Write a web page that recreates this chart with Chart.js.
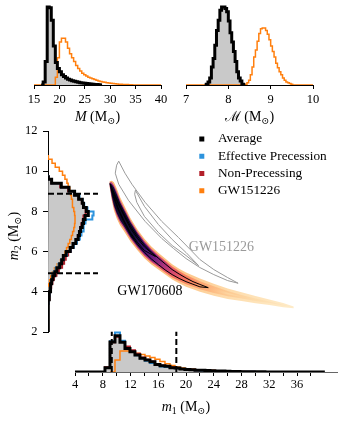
<!DOCTYPE html>
<html><head><meta charset="utf-8">
<script src="https://cdn.jsdelivr.net/npm/chart.js@4.4.1/dist/chart.umd.min.js"></script>
<style>
html,body{margin:0;padding:0;background:#fff;}
#wrap{position:relative;width:338px;height:428px;overflow:hidden;background:#fff;}
#wrap canvas{position:absolute;left:0;top:0;width:338px;height:428px;}
</style></head><body>
<div id="wrap">
<canvas id="cTotal" width="338" height="428"></canvas>
<canvas id="cChirp" width="338" height="428"></canvas>
<canvas id="cM2" width="338" height="428"></canvas>
<canvas id="cMain" width="338" height="428"></canvas>
</div>
<script>
// ================= DATA =================
const seriesNames = ['Average', 'Effective Precession', 'Non-Precessing', 'GW151226'];

// Total mass M histograms (top-left), bin width 0.4
const totalBinWidth = 0.4;
const totalAvgStart = 16.4;
const totalAverage = [0, 4, 30, 100, 99, 83, 50, 29, 21, 17, 13, 11, 9, 7.5, 6.5, 5.5, 4.8, 4.2, 3.6, 3, 2.5, 2.1, 1.8, 1.5, 1.2, 1, 0.8, 0.6, 0.4, 0];
const totalGWStart = 19.2;
const totalGW151226 = [10, 35, 55, 60, 60, 55, 47, 40, 35, 30, 25, 21, 18, 15, 13, 11.5, 10, 9, 8, 7, 6, 5.2, 4.5, 4, 3.5, 3, 2.6, 2.2, 1.9, 1.6, 1.3, 1.1, 0.9, 0.7, 0.6, 0.5, 0.4, 0.3];
const totalTicks = [15, 40, 5];

// Chirp mass histograms (top-right), bin width 0.04
const chirpBinWidth = 0.04;
const chirpAvgStart = 7.44;
const chirpAverage = [0, 1, 4, 9, 23, 34, 51, 70, 83, 96, 100, 100, 98, 94, 82, 67, 55, 43, 30, 17, 9, 5, 1, 0];
const chirpGWStart = 8.36;
const chirpGW151226 = [0, 1, 3, 6, 13, 23, 36, 45, 56, 66, 72, 73, 73, 70, 65, 58, 50, 43, 36, 28, 22, 17, 13, 9, 6, 4, 3, 2, 1, 0];
const chirpTicks = [7, 10, 1];

// m1 histograms (bottom), bin width 0.72
const m1BinWidth = 0.72;
const m1Start = 8.32;
const m1Average = [12, 83, 100, 82, 65, 56, 47, 38, 33, 28, 21, 17, 16, 12, 11, 8, 7, 6, 5, 4.5, 4, 3.5, 3, 2.5, 2, 1.6, 1.3, 1, 0.8, 0.6, 0.5, 0.4, 0.3];
const m1EffPrec = [11, 85, 109, 86, 66, 55, 46, 37, 31, 25, 19, 15, 14, 11, 10, 8, 6.5, 5.5, 4.5, 4, 3.5, 3, 2.5, 2, 1.6, 1.3, 1, 0.8, 0.6, 0.5];
const m1NonPrec = [13, 82, 97, 84, 70, 60, 50, 40, 34, 29, 22, 18, 16, 13, 11, 8.5, 7, 6, 5, 4.5, 4, 3.5, 3, 2.5, 2, 1.6, 1.3, 1, 0.8, 0.6];
const m1GWStart = 9.04;
const m1GW151226 = [0, 33, 58, 58, 55, 52, 48, 44, 40, 35, 29, 23, 18, 14, 11, 9, 7.5, 6.5, 5.5, 4.5, 4, 3.5, 3, 2.5, 2, 1.6, 1.3, 1, 0.8, 0.6, 0.5, 0.4];
const m1Interval = [9.3, 18.6];
const m1Ticks = [4, 40, 2];

// m2 histograms (left), bin width 0.2
const m2BinWidth = 0.2;
const m2AvgStart = 3.2;
const m2Average = [0.5, 1.5, 2.5, 3.5, 5, 7, 9, 12, 17, 22, 29, 34, 38, 45, 55, 62, 69, 75, 78, 81, 85, 88, 92, 100, 95, 88, 85, 76, 66, 52, 33, 9, 2];
const m2PrecStart = 3.4;
const m2EffPrec = [1, 2, 3, 4, 6, 8, 11, 14, 19, 26, 33, 39, 47, 56, 64, 72, 79, 83, 87, 89, 93, 110, 113, 98, 90, 86, 78, 66, 52, 32, 9, 2];
const m2NonPrec = [1, 2.5, 4, 6, 8, 11, 15, 21, 27, 35, 40, 44, 50, 57, 63, 70, 74, 77, 80, 83, 86, 88, 94, 93, 88, 84, 76, 65, 50, 30, 8, 2];
const m2GWStart = 4.0;
const m2GW151226 = [1, 2, 4, 7, 11, 16, 23, 31, 37, 42, 46, 50, 54, 58, 61, 64, 66, 67, 67, 66, 64, 62, 60, 58, 56, 54, 50, 47, 42, 36, 28, 18, 10, 2];
const m2Interval = [4.92, 8.88];
const m2Ticks = [2, 12, 2];

// GW170608 posterior band in (m1, m2): sample m1 values and m2 bounds
const bandM1 =         [9.0, 9.3, 9.6, 10, 10.5, 11, 12, 13, 14, 15, 16, 17, 18, 19, 20, 22, 24, 26, 28, 30, 32, 34, 35.5];
const bandCenter =     [9.35, 9.05, 8.75, 8.4, 8.0, 7.7, 7.08, 6.58, 6.15, 5.8, 5.52, 5.25, 4.98, 4.78, 4.6, 4.32, 4.1, 3.9, 3.75, 3.6, 3.47, 3.33, 3.22];
const bandOuterUpper = [9.5, 9.52, 9.45, 9.15, 8.7, 8.35, 7.66, 7.1, 6.63, 6.25, 5.94, 5.65, 5.36, 5.14, 4.95, 4.65, 4.4, 4.16, 3.97, 3.78, 3.61, 3.43, 3.26];
const bandOuterLower = [9.2, 8.55, 8.05, 7.65, 7.3, 7.05, 6.5, 6.06, 5.67, 5.35, 5.1, 4.85, 4.6, 4.42, 4.25, 3.99, 3.8, 3.64, 3.53, 3.42, 3.33, 3.23, 3.18];
const bandMidUpper =   [9.45, 9.45, 9.3, 9.0, 8.55, 8.2, 7.53, 6.98, 6.52, 6.14, 5.83, 5.54, 5.25, 5.03, 4.83, 4.52, 4.27, 4.03, 3.84, 3.66, 3.51, 3.35, 3.22];
const bandMidLower =   [9.25, 8.65, 8.2, 7.8, 7.45, 7.2, 6.63, 6.18, 5.78, 5.46, 5.21, 4.96, 4.71, 4.53, 4.37, 4.12, 3.93, 3.77, 3.66, 3.54, 3.43, 3.31, 3.22];
const bandCoreUpper =  [9.4, 9.35, 9.2, 8.88, 8.44, 8.1, 7.44, 6.9, 6.44, 6.06, 5.75, 5.46, 5.16, 4.94, 4.74, 4.43, 4.18, 3.94, 3.75, 3.6, 3.47, 3.33, 3.22];
const bandCoreLower =  [9.3, 8.75, 8.3, 7.92, 7.56, 7.3, 6.72, 6.26, 5.86, 5.54, 5.29, 5.04, 4.8, 4.62, 4.46, 4.21, 4.02, 3.86, 3.75, 3.6, 3.47, 3.33, 3.22];

// GW170608 credible contours (m1, m2)
const gw170608OuterM1 = [9.05, 9.6, 10.2, 11, 12, 13, 14, 15, 16, 17, 18, 19, 20, 21, 22, 23.2, 22, 21, 20, 19, 18, 17, 16, 15, 14, 13, 12, 11, 10.2, 9.5, 9.05];
const gw170608OuterM2 = [9.38, 8.95, 8.45, 7.9, 7.25, 6.75, 6.32, 5.97, 5.67, 5.38, 5.1, 4.88, 4.68, 4.5, 4.36, 4.2, 4.24, 4.37, 4.5, 4.66, 4.85, 5.08, 5.35, 5.63, 5.96, 6.36, 6.85, 7.5, 8.1, 8.75, 9.38];
const gw170608InnerM1 = [9.3, 10.2, 11, 12, 13, 14, 15.6, 14, 13, 12, 11, 10.2, 9.5, 9.3];
const gw170608InnerM2 = [9.1, 8.38, 7.82, 7.15, 6.65, 6.23, 5.75, 6.05, 6.45, 6.93, 7.58, 8.18, 8.85, 9.1];

// GW151226 credible contours (m1, m2)
const gw151226OuterM1 = [10.3, 11.2, 12.2, 14.1, 16.5, 18.9, 20.6, 22.0, 24.0, 26.0, 27.5, 26.0, 24.0, 22.0, 20.0, 18.2, 16.5, 14.1, 11.7, 10.3, 9.8, 10.0, 10.3];
const gw151226OuterM2 = [10.5, 9.9, 9.35, 8.45, 7.5, 6.7, 6.1, 5.6, 5.1, 4.7, 4.42, 4.55, 4.85, 5.2, 5.65, 6.15, 6.65, 7.5, 8.55, 9.35, 9.9, 10.3, 10.5];
const gw151226InnerM1 = [12.7, 14, 16, 18, 20, 21.8, 20, 18, 16, 14, 12.9, 12.6, 12.7];
const gw151226InnerM2 = [9.05, 8.25, 7.35, 6.6, 5.95, 5.3, 5.8, 6.3, 6.95, 7.75, 8.45, 8.85, 9.05];

const eventLabels = ['GW151226', 'GW170608'];
const eventLabelM1 = [25.1, 14.8];
const eventLabelM2 = [6.22, 4.0];

// ================= STYLE =================
const BLACK = '#000000', BLUE = '#2c93dd', RED = '#b3202a', ORANGE = '#ff7f0e', GRAY = '#c9c9c9';
const seriesColors = [BLACK, BLUE, RED, ORANGE];
const SERIF = '"Liberation Serif", "DejaVu Serif", serif';
const coreStops = [[9.0, '#1c0c45'], [10, '#0d0829'], [12.5, '#140b38'], [14, '#3c0f70'], [15.5, '#731f81'], [17, '#b5367a'], [18.5, '#e1506a'], [20, '#f6745c'], [22, '#fb9d6c'], [24, '#fdbd85'], [26, '#fdd5a0'], [35.5, '#fee6bd']];
const midStops = [[9.0, '#b93c7c'], [12, '#b2357d'], [14, '#cc4173'], [16, '#e45366'], [18, '#f36a5e'], [20, '#fa8a63'], [22, '#fca872'], [25, '#fdc58c'], [30, '#fddcab'], [35.5, '#fee8c4']];
const haloStops = [[9.0, '#fbb26f'], [14, '#fcb877'], [20, '#fdc88d'], [26, '#fedcac'], [35.5, '#feecc9']];

// ================= HELPERS =================
function hStep(start, width, counts, lo, hi) {
  const pts = [];
  if (lo !== undefined) pts.push({x: lo, y: 0});
  pts.push({x: start, y: 0});
  counts.forEach((c, i) => { pts.push({x: start + i * width, y: c}); pts.push({x: start + (i + 1) * width, y: c}); });
  pts.push({x: start + counts.length * width, y: 0});
  if (hi !== undefined) pts.push({x: hi, y: 0});
  return pts;
}
function vStep(start, width, counts, lo, hi) {
  return hStep(start, width, counts, lo, hi).map(p => ({x: p.y, y: p.x}));
}
function zip(xs, ys) { return xs.map((x, i) => ({x, y: ys[i]})); }
function polygon(xs, upper, lower) {
  const pts = zip(xs, upper);
  for (let i = xs.length - 1; i >= 0; i--) pts.push({x: xs[i], y: lower[i]});
  pts.push({x: xs[0], y: upper[0]});
  return pts;
}
function centerAt(m1) {
  for (let i = 0; i < bandM1.length - 1; i++) {
    if (m1 <= bandM1[i + 1]) {
      const t = (m1 - bandM1[i]) / (bandM1[i + 1] - bandM1[i]);
      return bandCenter[i] + t * (bandCenter[i + 1] - bandCenter[i]);
    }
  }
  return bandCenter[bandCenter.length - 1];
}
function bandGradient(chart, stops) {
  const {ctx, scales} = chart;
  const x = scales.x, y = scales.y;
  if (!chart.chartArea || !x || !y) return 'rgba(0,0,0,0)';
  const n = bandM1.length - 1;
  const p0 = {x: x.getPixelForValue(bandM1[0]), y: y.getPixelForValue(bandCenter[0])};
  const p1 = {x: x.getPixelForValue(bandM1[n]), y: y.getPixelForValue(bandCenter[n])};
  const dx = p1.x - p0.x, dy = p1.y - p0.y, L2 = dx * dx + dy * dy;
  const g = ctx.createLinearGradient(p0.x, p0.y, p1.x, p1.y);
  stops.forEach(([m1, col]) => {
    const px = x.getPixelForValue(m1), py = y.getPixelForValue(centerAt(m1));
    const t = Math.min(1, Math.max(0, ((px - p0.x) * dx + (py - p0.y) * dy) / L2));
    g.addColorStop(t, col);
  });
  return g;
}
function drawRich(ctx, segs, cx, cy, rot, size) {
  ctx.save();
  ctx.translate(cx, cy);
  if (rot) ctx.rotate(rot);
  let total = 0;
  const parts = segs.map(s => {
    const fs = s.sub ? size * 0.7 : size;
    const font = (s.italic ? 'italic ' : '') + fs + 'px ' + SERIF;
    ctx.font = font;
    const w = ctx.measureText(s.t).width;
    total += w;
    return {font, w, t: s.t, dy: s.sub ? size * 0.22 : 0};
  });
  let x = -total / 2;
  ctx.textBaseline = 'alphabetic';
  ctx.textAlign = 'left';
  ctx.fillStyle = '#000';
  parts.forEach(p => { ctx.font = p.font; ctx.fillText(p.t, x, size * 0.33 + p.dy); x += p.w; });
  ctx.restore();
}
const richTitlePlugin = {
  id: 'richTitles',
  afterDraw(chart, args, opts) {
    (opts.items || []).forEach(it => drawRich(chart.ctx, it.segs, it.x, it.y, it.rot || 0, it.size || 14));
  }
};
const keyPlugin = {
  id: 'seriesKey',
  afterDraw(chart, args, opts) {
    const ctx = chart.ctx;
    ctx.save();
    ctx.font = '13.3px ' + SERIF;
    ctx.textBaseline = 'middle';
    ctx.textAlign = 'left';
    seriesNames.forEach((name, i) => {
      const y = opts.top + i * opts.step;
      ctx.fillStyle = seriesColors[i];
      ctx.fillRect(opts.left, y - 2.5, 5, 5);
      ctx.fillStyle = '#000';
      ctx.fillText(name, opts.textLeft, y);
    });
    ctx.restore();
  }
};
const eventLabelPlugin = {
  id: 'eventLabels',
  afterDatasetsDraw(chart, args, opts) {
    const ctx = chart.ctx, x = chart.scales.x, y = chart.scales.y;
    ctx.save();
    ctx.font = '14px ' + SERIF;
    ctx.textAlign = 'center';
    ctx.textBaseline = 'middle';
    eventLabels.forEach((t, i) => {
      ctx.fillStyle = opts.colors[i];
      ctx.fillText(t, x.getPixelForValue(eventLabelM1[i]), y.getPixelForValue(eventLabelM2[i]));
    });
    ctx.restore();
  }
};

Chart.defaults.font.family = SERIF;
Chart.defaults.font.size = 12.5;
Chart.defaults.color = '#000';
Chart.defaults.animation = false;
Chart.defaults.events = [];
Chart.defaults.plugins.legend.display = false;
Chart.defaults.plugins.tooltip.enabled = false;
Chart.defaults.elements.point.radius = 0;
Chart.defaults.elements.line.tension = 0;
Chart.defaults.elements.line.borderJoinStyle = 'miter';
Chart.defaults.elements.line.borderCapStyle = 'butt';

const base = {responsive: false, maintainAspectRatio: false, devicePixelRatio: 1};
const clear = 'rgba(0,0,0,0)';

function topAxis(t) {
  return {type: 'linear', min: t[0], max: t[1], position: 'bottom',
    afterFit: s => { s.height = 30; },
    ticks: {stepSize: t[2], padding: 3, autoSkip: false, maxRotation: 0},
    grid: {drawOnChartArea: false, tickLength: 4, tickColor: '#000', color: '#000'},
    border: {display: true, color: '#000', width: 1}};
}
function topChart(id, avgStart, avg, gwStart, gw, w, t, padL, padR, title) {
  return new Chart(document.getElementById(id), {
    type: 'line',
    data: {datasets: [
      {label: 'Average (fill)', data: hStep(avgStart, w, avg), fill: 'shape', backgroundColor: GRAY, borderColor: clear, borderWidth: 0, order: 3},
      {label: 'GW151226', data: hStep(gwStart, w, gw, t[0], t[1]), borderColor: ORANGE, borderWidth: 1.5, fill: false, order: 2},
      {label: 'Average', data: hStep(avgStart, w, avg), borderColor: BLACK, borderWidth: 3, fill: false, order: 1}
    ]},
    options: Object.assign({}, base, {
      layout: {padding: {left: padL, right: padR, top: 0, bottom: 313}},
      scales: {x: topAxis(t), y: {type: 'linear', display: false, min: 0, max: 109}},
      plugins: {richTitles: {items: [title]}}
    }),
    plugins: [richTitlePlugin]
  });
}

topChart('cTotal', totalAvgStart, totalAverage, totalGWStart, totalGW151226, totalBinWidth, totalTicks, 34, 177,
  {segs: [{t: 'M', italic: true}, {t: ' (M'}, {t: '\u2299', sub: true}, {t: ')'}], x: 97.5, y: 116});
topChart('cChirp', chirpAvgStart, chirpAverage, chirpGWStart, chirpGW151226, chirpBinWidth, chirpTicks, 186, 25,
  {segs: [{t: '\u2133'}, {t: ' (M'}, {t: '\u2299', sub: true}, {t: ')'}], x: 249.5, y: 116});

// ---- Left: m2 marginal ----
new Chart(document.getElementById('cM2'), {
  type: 'line',
  data: {datasets: [
    {label: 'Average (fill)', data: vStep(m2AvgStart, m2BinWidth, m2Average), fill: 'shape', backgroundColor: GRAY, borderColor: clear, borderWidth: 0, order: 9},
    {label: 'GW151226', data: vStep(m2GWStart, m2BinWidth, m2GW151226), borderColor: ORANGE, borderWidth: 1.5, order: 8},
    {label: 'Non-Precessing', data: vStep(m2PrecStart, m2BinWidth, m2NonPrec), borderColor: RED, borderWidth: 2, order: 7},
    {label: 'Effective Precession', data: vStep(m2PrecStart, m2BinWidth, m2EffPrec), borderColor: BLUE, borderWidth: 2, order: 6},
    {label: 'Average', data: vStep(m2AvgStart, m2BinWidth, m2Average, 2), borderColor: BLACK, borderWidth: 3, order: 5},
    {label: 'lower bound', data: [{x: 0, y: m2Interval[0]}, {x: 124, y: m2Interval[0]}], borderColor: BLACK, borderWidth: 2, borderDash: [6, 3], order: 4},
    {label: 'upper bound', data: [{x: 0, y: m2Interval[1]}, {x: 124, y: m2Interval[1]}], borderColor: BLACK, borderWidth: 2, borderDash: [6, 3], order: 4}
  ]},
  options: Object.assign({}, base, {
    indexAxis: 'y',
    layout: {padding: {left: 0, right: 228, top: 131, bottom: 96}},
    scales: {
      x: {type: 'linear', display: false, min: 0, max: 153.8},
      y: {type: 'linear', min: m2Ticks[0], max: m2Ticks[1], position: 'left',
        afterFit: s => { s.width = 48; },
        ticks: {stepSize: m2Ticks[2], padding: 5.5, autoSkip: false},
        grid: {drawOnChartArea: false, tickLength: 5, tickColor: '#000', color: '#000'},
        border: {display: true, color: '#000', width: 1}}
    },
    plugins: {richTitles: {items: [{segs: [{t: 'm', italic: true}, {t: '2', sub: true}, {t: ' (M'}, {t: '\u2299', sub: true}, {t: ')'}], x: 13, y: 236, rot: -Math.PI / 2}]}}
  }),
  plugins: [richTitlePlugin]
});

// ---- Main: joint posterior + m1 marginal ----
const lineDS = (label, data, color, width, order, extra) => Object.assign({label, data, borderColor: color, borderWidth: width, fill: false, order}, extra || {});
new Chart(document.getElementById('cMain'), {
  type: 'line',
  data: {datasets: [
    {label: 'Average (fill)', data: hStep(m1Start, m1BinWidth, m1Average), yAxisID: 'yh', fill: 'shape', backgroundColor: GRAY, borderColor: clear, borderWidth: 0, order: 100},
    lineDS('GW151226', hStep(m1GWStart, m1BinWidth, m1GW151226), ORANGE, 1.5, 90, {yAxisID: 'yh'}),
    lineDS('Non-Precessing', hStep(m1Start, m1BinWidth, m1NonPrec), RED, 2, 80, {yAxisID: 'yh'}),
    lineDS('Effective Precession', hStep(m1Start, m1BinWidth, m1EffPrec), BLUE, 2, 70, {yAxisID: 'yh'}),
    lineDS('Average', hStep(m1Start, m1BinWidth, m1Average, 4, 40), BLACK, 3, 60, {yAxisID: 'yh'}),
    lineDS('m1 lower', [{x: m1Interval[0], y: 0}, {x: m1Interval[0], y: 111}], BLACK, 2, 50, {yAxisID: 'yh', borderDash: [6, 3]}),
    lineDS('m1 upper', [{x: m1Interval[1], y: 0}, {x: m1Interval[1], y: 111}], BLACK, 2, 50, {yAxisID: 'yh', borderDash: [6, 3]}),
    {label: 'GW170608 halo', data: polygon(bandM1, bandOuterUpper, bandOuterLower), yAxisID: 'y', fill: 'shape', borderColor: clear, borderWidth: 0, order: 40,
      backgroundColor: c => bandGradient(c.chart, haloStops)},
    {label: 'GW170608 mid', data: polygon(bandM1, bandMidUpper, bandMidLower), yAxisID: 'y', fill: 'shape', borderColor: clear, borderWidth: 0, order: 30,
      backgroundColor: c => bandGradient(c.chart, midStops)},
    {label: 'GW170608 core', data: polygon(bandM1, bandCoreUpper, bandCoreLower), yAxisID: 'y', fill: 'shape', borderColor: clear, borderWidth: 0, order: 20,
      backgroundColor: c => bandGradient(c.chart, coreStops)},
    lineDS('GW151226 90%', zip(gw151226OuterM1, gw151226OuterM2), '#9a9a9a', 1, 10, {yAxisID: 'y'}),
    lineDS('GW151226 50%', zip(gw151226InnerM1, gw151226InnerM2), '#9a9a9a', 1, 10, {yAxisID: 'y'}),
    lineDS('GW170608 90%', zip(gw170608OuterM1, gw170608OuterM2), BLACK, 1, 5, {yAxisID: 'y'}),
    lineDS('GW170608 50%', zip(gw170608InnerM1, gw170608InnerM2), BLACK, 1, 5, {yAxisID: 'y'})
  ]},
  options: Object.assign({}, base, {
    layout: {padding: {left: 75, right: 1, top: 131, bottom: 0}},
    scales: {
      x: {type: 'linear', min: m1Ticks[0], max: 41.75, position: 'bottom',
        afterFit: s => { s.height = 56; },
        afterBuildTicks: s => { s.ticks = s.ticks.filter(t => t.value >= m1Ticks[0] && t.value <= m1Ticks[1] && Math.abs(t.value % m1Ticks[2]) < 1e-6); },
        ticks: {stepSize: m1Ticks[2], padding: 1, autoSkip: false, maxRotation: 0, callback: v => (v % 4 === 0 ? String(v) : '')},
        grid: {drawOnChartArea: false, tickLength: 4, tickColor: '#000', color: '#000'},
        border: {display: true, color: '#666', width: 1}},
      y: {type: 'linear', display: false, min: 0, max: 12},
      yh: {type: 'linear', display: false, min: 0, max: 664, position: 'left'}
    },
    plugins: {
      richTitles: {items: [{segs: [{t: 'm', italic: true}, {t: '1', sub: true}, {t: ' (M'}, {t: '\u2299', sub: true}, {t: ')'}], x: 186, y: 406}]},
      seriesKey: {left: 199.3, textLeft: 218, top: 139, step: 17.25},
      eventLabels: {colors: ['#9a9a9a', '#000000']}
    }
  }),
  plugins: [richTitlePlugin, keyPlugin, eventLabelPlugin]
});
</script>
</body></html>
